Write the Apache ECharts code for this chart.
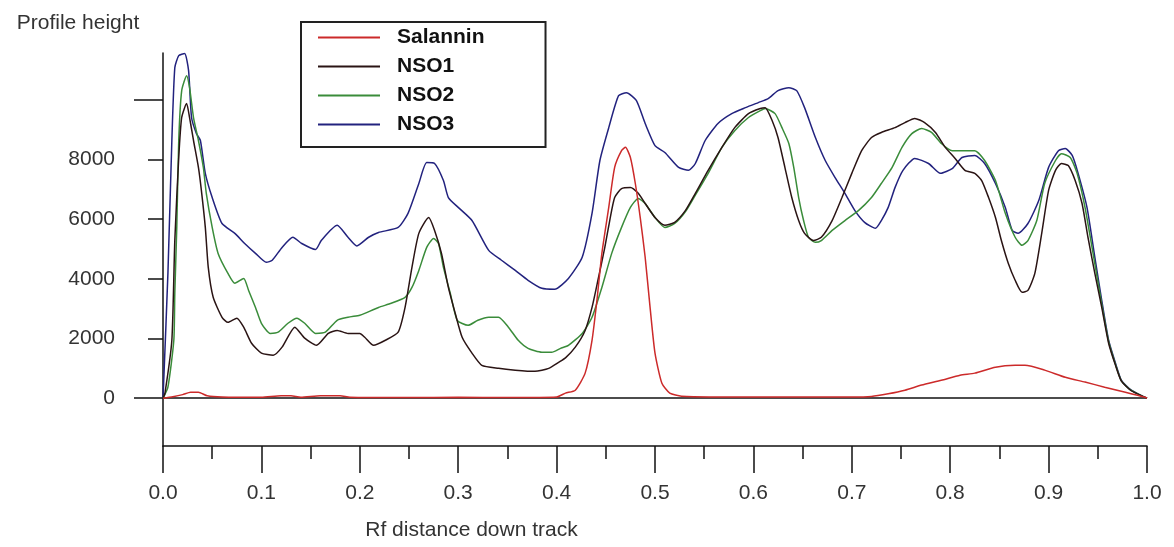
<!DOCTYPE html>
<html>
<head>
<meta charset="utf-8">
<script src="https://cdn.jsdelivr.net/npm/echarts@6/dist/echarts.min.js"></script>
<style>
  html, body { margin: 0; padding: 0; background: #fff; }
  #chart { width: 1174px; height: 547px; }
</style>
</head>
<body>
<div id="chart"></div>
<script>
  // Rf positions and profile heights
  const salRf  = [0, 0.01, 0.02, 0.028, 0.036, 0.045, 0.06, 0.1, 0.12, 0.13, 0.14, 0.16, 0.18, 0.19, 0.25, 0.3, 0.35, 0.4, 0.409, 0.419, 0.429, 0.436, 0.441, 0.446, 0.453, 0.459, 0.466, 0.47, 0.475, 0.48, 0.485, 0.49, 0.495, 0.5, 0.507, 0.515, 0.527, 0.6, 0.7, 0.72, 0.737, 0.754, 0.771, 0.791, 0.81, 0.825, 0.846, 0.866, 0.876, 0.896, 0.917, 0.937, 0.957, 0.978, 0.998, 1.0];
  const salVal = [0, 50, 120, 200, 200, 80, 40, 30, 80, 80, 30, 80, 80, 30, 20, 30, 20, 40, 170, 270, 840, 1940, 3280, 4850, 6390, 7730, 8290, 8400, 8060, 7190, 6050, 4720, 3040, 1510, 500, 170, 70, 40, 40, 60, 150, 270, 440, 600, 770, 840, 1040, 1100, 1100, 940, 700, 540, 370, 200, 30, 0];

  const nso1Rf  = [0, 0.002, 0.009, 0.012, 0.016, 0.019, 0.024, 0.027, 0.031, 0.036, 0.039, 0.043, 0.046, 0.051, 0.06, 0.066, 0.075, 0.082, 0.09, 0.1, 0.112, 0.121, 0.134, 0.144, 0.156, 0.168, 0.177, 0.188, 0.2, 0.205, 0.214, 0.226, 0.239, 0.246, 0.253, 0.26, 0.27, 0.276, 0.283, 0.29, 0.297, 0.304, 0.314, 0.324, 0.341, 0.358, 0.378, 0.392, 0.402, 0.409, 0.419, 0.429, 0.436, 0.442, 0.449, 0.454, 0.459, 0.466, 0.475, 0.483, 0.49, 0.5, 0.51, 0.52, 0.531, 0.541, 0.554, 0.568, 0.581, 0.595, 0.607, 0.612, 0.619, 0.625, 0.632, 0.639, 0.646, 0.652, 0.661, 0.669, 0.68, 0.69, 0.7, 0.71, 0.72, 0.73, 0.744, 0.754, 0.764, 0.774, 0.785, 0.795, 0.805, 0.815, 0.825, 0.832, 0.839, 0.846, 0.852, 0.859, 0.866, 0.873, 0.879, 0.886, 0.893, 0.9, 0.907, 0.913, 0.92, 0.927, 0.934, 0.94, 0.947, 0.954, 0.961, 0.968, 0.974, 0.984, 0.998, 1.0];
  const nso1Val = [0, 170, 1940, 5280, 8060, 9400, 9870, 9400, 8630, 7730, 6960, 5720, 4380, 3380, 2710, 2540, 2680, 2380, 1840, 1510, 1440, 1710, 2380, 2010, 1770, 2170, 2270, 2170, 2170, 2040, 1770, 1940, 2210, 3040, 4380, 5520, 6050, 5620, 4850, 3710, 2840, 2040, 1510, 1100, 1000, 940, 900, 1000, 1200, 1350, 1710, 2270, 3040, 3950, 5050, 5950, 6720, 7020, 7060, 6860, 6520, 6050, 5790, 5890, 6290, 6860, 7630, 8400, 9060, 9530, 9700, 9730, 9300, 8730, 7730, 6720, 5950, 5520, 5280, 5390, 5950, 6720, 7530, 8290, 8730, 8900, 9060, 9230, 9370, 9230, 8900, 8400, 8030, 7630, 7530, 7290, 6720, 6050, 5280, 4520, 3950, 3550, 3610, 4180, 5520, 6960, 7630, 7860, 7790, 7290, 6520, 5390, 4180, 3040, 1840, 1100, 570, 250, 30, 0];

  const nso2Rf  = [0, 0.005, 0.011, 0.012, 0.014, 0.016, 0.019, 0.024, 0.027, 0.031, 0.036, 0.041, 0.044, 0.05, 0.056, 0.066, 0.073, 0.082, 0.087, 0.094, 0.1, 0.109, 0.117, 0.127, 0.136, 0.144, 0.155, 0.165, 0.177, 0.188, 0.2, 0.205, 0.219, 0.232, 0.246, 0.253, 0.26, 0.268, 0.275, 0.28, 0.285, 0.292, 0.299, 0.31, 0.32, 0.331, 0.341, 0.351, 0.361, 0.371, 0.385, 0.395, 0.404, 0.412, 0.426, 0.436, 0.446, 0.456, 0.466, 0.475, 0.483, 0.49, 0.5, 0.51, 0.52, 0.531, 0.541, 0.554, 0.568, 0.581, 0.595, 0.607, 0.612, 0.622, 0.629, 0.636, 0.641, 0.646, 0.651, 0.656, 0.663, 0.669, 0.68, 0.693, 0.707, 0.72, 0.73, 0.741, 0.751, 0.761, 0.771, 0.781, 0.791, 0.802, 0.81, 0.825, 0.835, 0.846, 0.856, 0.866, 0.873, 0.879, 0.888, 0.896, 0.907, 0.913, 0.922, 0.929, 0.937, 0.947, 0.954, 0.961, 0.968, 0.974, 0.984, 0.998, 1.0];
  const nso2Val = [0, 370, 1940, 3510, 5720, 8630, 10300, 10800, 10400, 9400, 8630, 7730, 6860, 5720, 4850, 4180, 3850, 4010, 3610, 3040, 2510, 2170, 2210, 2510, 2680, 2510, 2170, 2210, 2610, 2710, 2780, 2840, 3040, 3180, 3380, 3710, 4280, 5050, 5350, 5180, 4380, 3510, 2610, 2440, 2610, 2710, 2710, 2380, 1940, 1670, 1540, 1540, 1670, 1770, 2170, 2710, 3710, 4850, 5720, 6390, 6690, 6520, 6050, 5720, 5850, 6250, 6800, 7530, 8400, 8960, 9400, 9630, 9700, 9530, 9060, 8530, 7730, 6720, 5950, 5390, 5220, 5280, 5620, 5950, 6290, 6720, 7190, 7730, 8400, 8860, 9030, 8900, 8530, 8290, 8290, 8290, 7960, 7290, 6190, 5390, 5120, 5280, 5950, 7190, 7960, 8190, 8060, 7530, 6390, 4500, 3150, 1900, 1130, 580, 260, 30, 0];

  const nso3Rf  = [0, 0.001, 0.005, 0.009, 0.012, 0.016, 0.022, 0.026, 0.029, 0.034, 0.038, 0.043, 0.05, 0.06, 0.073, 0.083, 0.094, 0.105, 0.111, 0.121, 0.132, 0.141, 0.155, 0.161, 0.177, 0.188, 0.197, 0.209, 0.219, 0.239, 0.249, 0.26, 0.268, 0.276, 0.285, 0.29, 0.3, 0.314, 0.331, 0.344, 0.358, 0.371, 0.385, 0.398, 0.412, 0.426, 0.436, 0.444, 0.453, 0.463, 0.471, 0.481, 0.49, 0.5, 0.51, 0.524, 0.534, 0.541, 0.551, 0.564, 0.578, 0.592, 0.605, 0.615, 0.625, 0.636, 0.644, 0.652, 0.663, 0.673, 0.683, 0.693, 0.703, 0.713, 0.724, 0.73, 0.737, 0.744, 0.752, 0.764, 0.778, 0.79, 0.802, 0.812, 0.825, 0.835, 0.846, 0.856, 0.863, 0.869, 0.879, 0.89, 0.9, 0.91, 0.917, 0.924, 0.93, 0.939, 0.947, 0.954, 0.961, 0.968, 0.974, 0.984, 0.998, 1.0];
  const nso3Val = [0, 800, 4180, 8630, 11070, 11470, 11540, 10970, 9400, 8860, 8630, 7530, 6720, 5850, 5520, 5180, 4850, 4550, 4620, 5050, 5390, 5180, 4980, 5290, 5790, 5390, 5100, 5390, 5550, 5720, 6190, 7190, 7890, 7860, 7290, 6720, 6390, 5950, 4950, 4620, 4280, 3950, 3680, 3650, 4010, 4720, 6190, 7960, 9060, 10130, 10230, 9970, 9200, 8460, 8230, 7730, 7630, 7860, 8630, 9200, 9530, 9730, 9900, 10030, 10300, 10400, 10300, 9730, 8730, 7960, 7390, 6860, 6290, 5890, 5690, 5950, 6390, 7060, 7630, 8030, 7860, 7530, 7690, 8060, 8130, 7860, 7190, 6390, 5620, 5520, 5850, 6620, 7730, 8290, 8360, 8130, 7530, 6390, 4720, 3280, 1940, 1170, 600, 270, 30, 0];

  const seriesNames = ['Salannin', 'NSO1', 'NSO2', 'NSO3'];
  const seriesColors = ['#cc2a2a', '#2a1414', '#3a8c3a', '#22227e'];
  const yTickLabels = [0, 2000, 4000, 6000, 8000];

  const zip = (xs, ys) => xs.map((x, i) => [x, ys[i]]);
  const allData = [zip(salRf, salVal), zip(nso1Rf, nso1Val), zip(nso2Rf, nso2Val), zip(nso3Rf, nso3Val)];

  const axisColor = '#111';
  const labelFont = { fontFamily: 'Liberation Sans', fontSize: 21, color: '#333' };

  const chart = echarts.init(document.getElementById('chart'));

  const series = seriesNames.map((name, i) => ({
    name: name,
    type: 'line',
    data: allData[i],
    showSymbol: false,
    smooth: 0.2,
    z: 10 - i,
    lineStyle: { color: seriesColors[i], width: 1.5 },
    itemStyle: { color: seriesColors[i] }
  }));
  // zero baseline across the plot
  series[0].markLine = {
    silent: true,
    symbol: 'none',
    label: { show: false },
    lineStyle: { color: axisColor, width: 1.5, type: 'solid' },
    data: [{ yAxis: 0 }]
  };
  series[0].z = 11;

  const option = {
    animation: false,
    backgroundColor: '#fff',
    grid: { left: 163, right: 27, top: 53, bottom: 101 },
    legend: {
      data: seriesNames,
      orient: 'vertical',
      left: 301,
      top: 22,
      selectedMode: false,
      icon: 'rect',
      itemWidth: 62,
      itemHeight: 2,
      itemGap: 8,
      padding: [5, 61, 12, 17],
      backgroundColor: '#fff',
      borderColor: '#222',
      borderWidth: 2,
      borderRadius: 0,
      textStyle: {
        fontFamily: 'Liberation Sans',
        fontSize: 21,
        fontWeight: 'bold',
        color: '#111',
        padding: [0, 0, 0, 12]
      }
    },
    xAxis: {
      type: 'value',
      min: 0,
      max: 1,
      interval: 0.1,
      name: 'Rf distance down track',
      nameLocation: 'middle',
      nameGap: 74,
      nameTextStyle: Object.assign({}, labelFont, { padding: [0, 367, 0, 0] }),
      axisLine: { onZero: false, lineStyle: { color: axisColor, width: 1.5 } },
      axisTick: { length: 27, lineStyle: { color: axisColor, width: 1.5 } },
      minorTick: { show: true, splitNumber: 2, length: 13, lineStyle: { color: axisColor, width: 1.5 } },
      axisLabel: Object.assign({}, labelFont, { margin: 37, formatter: v => v.toFixed(1) }),
      splitLine: { show: false }
    },
    yAxis: [
      {
        type: 'value',
        min: -1600,
        max: 11560,
        position: 'left',
        name: 'Profile height',
        nameLocation: 'end',
        nameGap: 19,
        nameTextStyle: Object.assign({}, labelFont, { padding: [0, 170, 0, 0] }),
        axisLine: { show: true, lineStyle: { color: axisColor, width: 1.5 } },
        axisTick: { show: true, length: 29, customValues: [0, 10000], lineStyle: { color: axisColor, width: 1.5 } },
        axisLabel: { show: false },
        splitLine: { show: false }
      },
      {
        type: 'value',
        min: -1600,
        max: 11560,
        position: 'left',
        axisLine: { show: false },
        axisTick: { show: true, length: 15, customValues: [2000, 4000, 6000, 8000], lineStyle: { color: axisColor, width: 1.5 } },
        axisLabel: Object.assign({}, labelFont, { margin: 48, customValues: yTickLabels, formatter: v => String(v) }),
        splitLine: { show: false }
      }
    ],
    series: series
  };

  chart.setOption(option);
</script>
</body>
</html>
